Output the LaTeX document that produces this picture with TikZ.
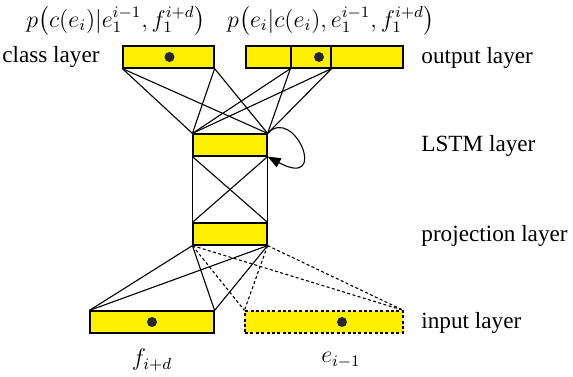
\documentclass[tikz,border=0pt]{standalone}
\usepackage{amsmath}
\usepackage{fontspec}
\setmainfont{Liberation Serif}
\usepackage{tikz}
\usetikzlibrary{arrows.meta,positioning}
\definecolor{layeryellow}{RGB}{255,240,0}

\begin{document}
\begin{tikzpicture}[
    x=0.5pt, y=-0.5pt,
    font=\fontsize{11.6}{13}\selectfont,
    layer/.style={
        rectangle, draw=black, fill=layeryellow, line width=0.6pt,
        minimum width=#1, minimum height=11pt, inner sep=0pt
    },
    unit/.style={circle, fill=black!85, minimum size=5pt, inner sep=0pt},
    conn/.style={line width=0.55pt},
    dconn/.style={conn, dash pattern=on 1.5pt off 1.2pt},
    lbl/.style={inner sep=0pt},
    prob/.style={lbl, anchor=base, font=\fontsize{12}{14}\selectfont},
]
\useasboundingbox (0,0) rectangle (573,376);

% Layers
\node[layer=45.5pt] (class) at (168.5,57) {};
\node[layer=78.5pt] (output) at (324.5,57) {};
\node[layer=20pt] (outmid) at (311,57) {};
\node[layer=37pt] (lstm) at (230,145) {};
\node[layer=37pt] (proj) at (230,234) {};
\node[layer=62pt] (fin) at (152,322) {};
\node[layer=79pt, dash pattern=on 1.5pt off 1.2pt] (ein) at (324,322) {};

% Units
\node[unit] (cdot) at (169.5,57) {};
\node[unit] (odot) at (319,57) {};
\node[unit] (fdot) at (152,322) {};
\node[unit] (edot) at (342,322) {};

% Top connections
\foreach \s in {class.south west, class.south east, outmid.south west, outmid.south east}
  \foreach \t in {lstm.north west, lstm.north east}
    \draw[conn] (\s) -- (\t);

% LSTM to projection
\draw[conn] (lstm.south west) -- (proj.north west);
\draw[conn] (lstm.south east) -- (proj.north east);
\draw[conn] (lstm.south west) -- (proj.north east);
\draw[conn] (lstm.south east) -- (proj.north west);

% Recurrence
\draw[conn, -{Triangle[length=6.5pt, width=5pt]}] (lstm.north east)
    .. controls (294,105) and (330,190) .. (lstm.south east);

% Bottom connections
\foreach \s in {proj.south west, proj.south east} {
  \draw[conn] (\s) -- (fin.north west);
  \draw[conn] (\s) -- (fin.north east);
  \draw[dconn] (\s) -- (ein.north west);
  \draw[dconn] (\s) -- (ein.north east);
}

% Labels
\node[lbl, anchor=base east] (classlbl) at (100,62) {class layer};
\node[lbl, anchor=base west] (outlbl) at (421,63) {output layer};
\node[lbl, anchor=base west] (lstmlbl) at (421,151.5) {LSTM layer};
\node[lbl, anchor=base west] (projlbl) at (421,241.5) {projection layer};
\node[lbl, anchor=base west] (inlbl) at (421,328) {input layer};

\node[prob] (pclass) at (116,27) {$p\big(c(e_i)|e_1^{i-1}, f_1^{i+d}\big)$};
\node[prob] (pout) at (331,27) {$p\big(e_i|c(e_i), e_1^{i-1}, f_1^{i+d}\big)$};
\node[lbl] (flbl) at (152,360) {$f_{i+d}$};
\node[lbl] (elbl) at (341,360) {$e_{i-1}$};
\end{tikzpicture}
\end{document}
